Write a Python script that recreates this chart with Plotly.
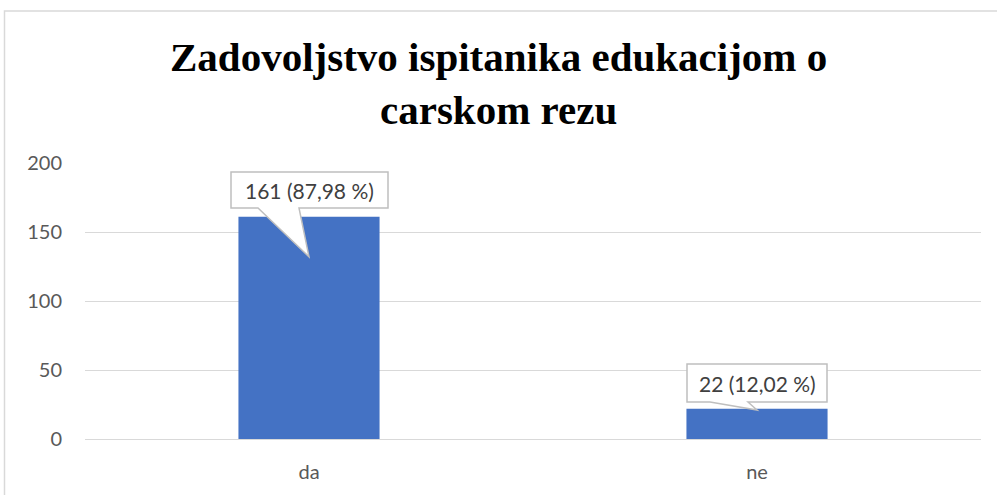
import plotly.graph_objects as go

categories = ["da", "ne"]
values = [161, 22]
percents = ["87,98 %", "12,02 %"]
y_ticks = [0, 50, 100, 150, 200]
title_text = "Zadovoljstvo ispitanika edukacijom o<br>carskom rezu"

W, H = 997, 495
ML, MR, MT, MB = 85, 16, 163, 56
pw = W - ML - MR
ph = H - MT - MB

fig = go.Figure()
fig.add_trace(go.Bar(
    x=categories, y=values, width=0.315,
    marker=dict(color="#4472C4", line=dict(width=0)),
    hoverinfo="x+y",
))

# callout shapes (pixel offsets relative to each data point)
callouts = [
    # (box left, right, bottom, top, tail base left, tail base right, tip y)
    (-78, 79, 8.8, 44.8, -51, -10, -40),
    (-70, 70, 6.6, 44.6, -47, -9, -1.4),
]
for cat, val, pct, c in zip(categories, values, percents, callouts):
    l, r, b, t, tl, tr, tip = c
    path = (f"M {l},{b} L {tl},{b} L 0,{tip} L {tr},{b} L {r},{b} "
            f"L {r},{t} L {l},{t} Z")
    fig.add_shape(type="path", xref="x", yref="y",
                  xsizemode="pixel", ysizemode="pixel",
                  xanchor=cat, yanchor=val, path=path,
                  fillcolor="white", line=dict(color="#BFBFBF", width=1.5),
                  layer="above")
    fig.add_annotation(x=cat, y=val, xref="x", yref="y",
                       text=f"{val} ({pct})", showarrow=False,
                       yshift=(b + t) / 2, xshift=(l + r) / 2,
                       font=dict(family="Lato", size=21, color="#404040"))

# outer frame
fig.add_shape(type="rect", xref="paper", yref="paper",
              x0=(4.5 - ML) / pw, x1=1.2, y0=-0.5, y1=(H - MB - 11) / ph,
              line=dict(color="#D9D9D9", width=1.5), fillcolor="rgba(0,0,0,0)",
              layer="below")

# title
fig.add_annotation(text=title_text, xref="paper", yref="paper",
                   x=(W / 2 - ML) / pw, y=(H - MB - 83) / ph,
                   xanchor="center", yanchor="middle", showarrow=False,
                   font=dict(family="Liberation Serif", size=41, color="black",
                             weight="bold"))

fig.update_layout(
    width=W, height=H,
    margin=dict(l=ML, r=MR, t=MT, b=MB),
    plot_bgcolor="white", paper_bgcolor="white",
    showlegend=False,
)
fig.update_xaxes(showline=False, ticks="", tickfont=dict(family="Lato", size=20, color="#595959"),
                 ticklabelstandoff=19)
fig.update_yaxes(range=[0, 200], tickvals=y_ticks, showgrid=True, gridcolor="#D9D9D9",
                 gridwidth=1.2, zeroline=True, zerolinecolor="#D9D9D9", zerolinewidth=1.2,
                 showline=False, ticks="", ticklabelstandoff=22,
                 tickfont=dict(family="Lato", size=20, color="#595959"))

fig.write_html("out.html", config={"displayModeBar": False},
               post_script="document.body.style.margin='0';document.body.style.overflow='hidden';")
